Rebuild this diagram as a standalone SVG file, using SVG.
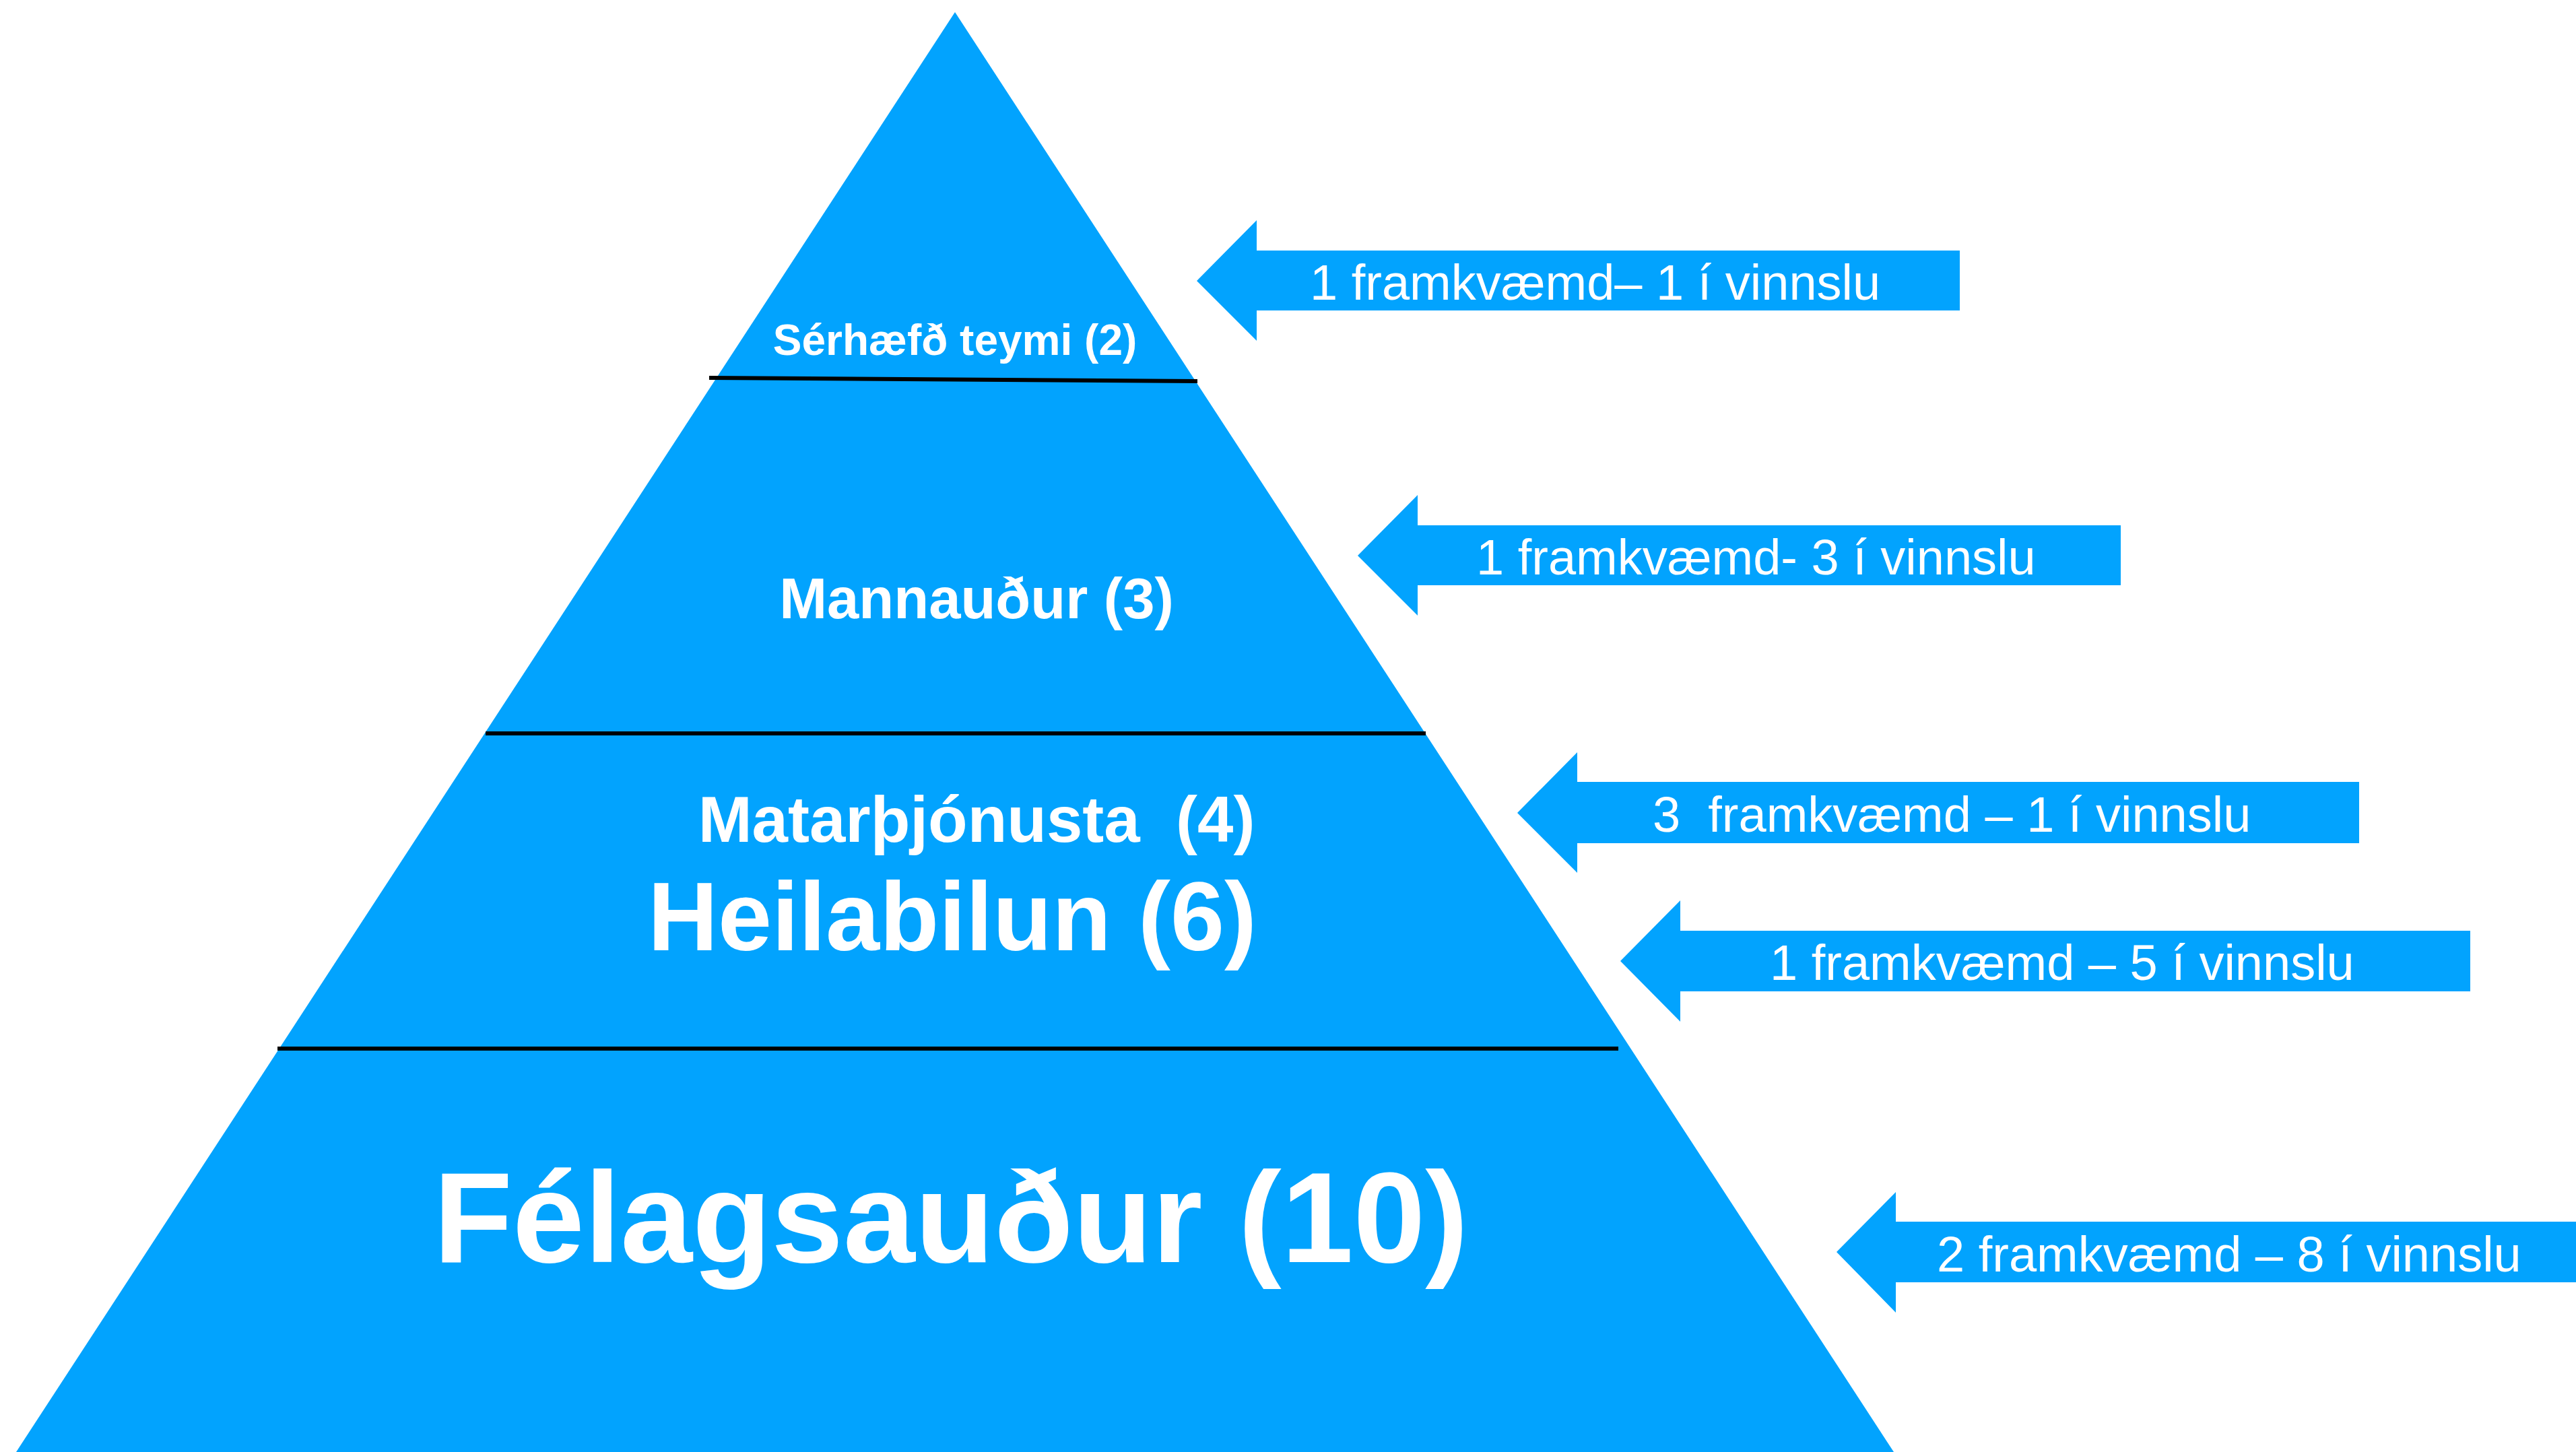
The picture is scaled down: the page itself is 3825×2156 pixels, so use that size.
<svg xmlns="http://www.w3.org/2000/svg" width="3825" height="2156" viewBox="0 0 3825 2156">
<style>
.fill{fill:#02A3FE}
.sep{stroke:#000;stroke-width:6;fill:none}
.lvl{font-family:"Liberation Sans",Arial,sans-serif;font-weight:bold;fill:#fff;text-anchor:middle;white-space:pre}
.lbl{font-family:"Liberation Sans",Arial,sans-serif;font-size:74px;fill:#fff;white-space:pre}
</style>
<rect width="3825" height="2156" fill="#fff"/>
<g id="pyramid">
<polygon class="fill" points="1418,18 2812,2156 24,2156"/>
</g>
<g id="separators">
<line class="sep" x1="1053" y1="561" x2="1778" y2="566"/>
<line class="sep" x1="721" y1="1089" x2="2117" y2="1089"/>
<line class="sep" x1="412" y1="1557" x2="2403" y2="1557"/>
</g>
<g id="level-serhaefd"><text class="lvl" x="1418" y="527" font-size="64">Sérhæfð teymi (2)</text></g>
<g id="level-mannaudur"><text class="lvl" x="1450" y="918" font-size="85">Mannauður (3)</text></g>
<g id="level-matar"><text class="lvl" x="1450" y="1250" font-size="96">Matarþjónusta  (4)</text></g>
<g id="level-heilabilun"><text class="lvl" x="1414" y="1411" font-size="144">Heilabilun (6)</text></g>
<g id="level-felagsaudur"><text class="lvl" x="1412" y="1874" font-size="192">Félagsauður (10)</text></g>
<g id="connectors">
<g id="arrow1">
<polygon class="fill" points="1777,417 1866,327 1866,372 2910,372 2910,461 1866,461 1866,506"/>
<text class="lbl" x="1945" y="445">1 framkvæmd– 1 í vinnslu</text>
</g>
<g id="arrow2">
<polygon class="fill" points="2016,825 2105,735 2105,780 3149,780 3149,869 2105,869 2105,914"/>
<text class="lbl" x="2192" y="853">1 framkvæmd- 3 í vinnslu</text>
</g>
<g id="arrow3">
<polygon class="fill" points="2253,1207 2342,1117 2342,1161 3503,1161 3503,1252 2342,1252 2342,1296"/>
<text class="lbl" x="2454" y="1235">3  framkvæmd – 1 í vinnslu</text>
</g>
<g id="arrow4">
<polygon class="fill" points="2406,1427 2495,1337 2495,1382 3668,1382 3668,1472 2495,1472 2495,1517"/>
<text class="lbl" x="2628" y="1455">1 framkvæmd – 5 í vinnslu</text>
</g>
<g id="arrow5">
<polygon class="fill" points="2727,1859 2815,1770 2815,1814 3830,1814 3830,1904 2815,1904 2815,1949"/>
<text class="lbl" x="2876" y="1888">2 framkvæmd – 8 í vinnslu</text>
</g>
</g>
</svg>
